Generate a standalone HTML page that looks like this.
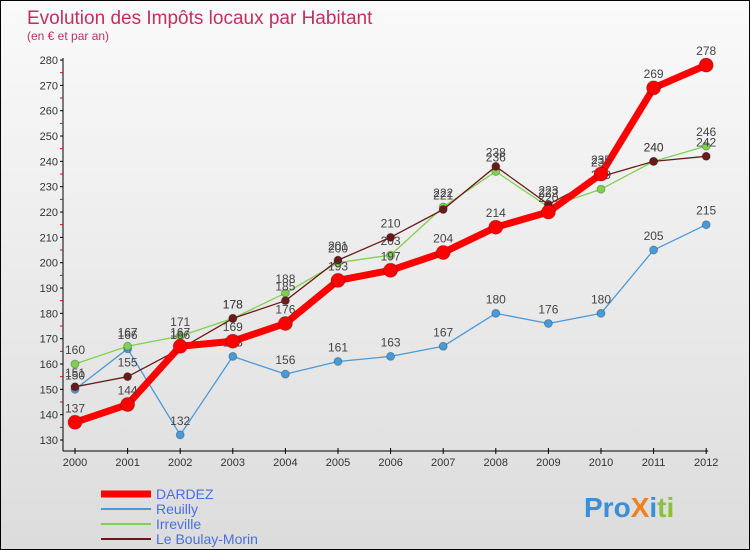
<!DOCTYPE html>
<html><head><meta charset="utf-8"><style>
body{margin:0;width:750px;height:550px;overflow:hidden;font-family:"Liberation Sans",sans-serif}
#wrap{position:absolute;left:0;top:0;width:748px;height:548px;border:1px solid #000;background:linear-gradient(#fafafa,#dcdcdc)}
</style></head><body>
<div id="wrap">
<svg id="chart" width="748" height="548" style="position:absolute;left:0;top:0">
<text x="26" y="23" font-size="19" fill="#c0305f">Evolution des Impôts locaux par Habitant</text>
<text x="26" y="39" font-size="12" fill="#c0305f">(en € et par an)</text>
<g id="axes"></g><g id="series"></g><g id="legend"></g>
<text x="583" y="516" font-size="28" font-weight="bold"><tspan fill="#3a8fd8">Pro</tspan><tspan fill="#f08020">X</tspan><tspan fill="#3a8fd8">i</tspan><tspan fill="#8ac040">ti</tspan></text>
</svg></div>
<script>
const years=[2000,2001,2002,2003,2004,2005,2006,2007,2008,2009,2010,2011,2012];
const yTicks=[130,140,150,160,170,180,190,200,210,220,230,240,250,260,270,280];
const dardez=[137,144,167,169,176,193,197,204,214,220,235,269,278];
const reuilly=[150,166,132,163,156,161,163,167,180,176,180,205,215];
const irreville=[160,167,171,178,188,200,203,222,236,222,229,240,246];
const boulay=[151,155,166,178,185,201,210,221,238,223,234,240,242];
const NS='http://www.w3.org/2000/svg';
const X=i=>74+i*52.6, Y=v=>439-(v-130)*2.533;
function mk(t,a,p){const e=document.createElementNS(NS,t);for(const k in a)e.setAttribute(k,a[k]);p.appendChild(e);return e;}
const ax=document.getElementById('axes');
let l=mk('line',{x1:62,y1:Y(280)-2,x2:62,y2:450,stroke:'#000'},ax);

l=mk('line',{x1:62,y1:450,x2:X(12)+2,y2:450,stroke:'#000'},ax);

yTicks.forEach(v=>{mk('line',{x1:59,y1:Y(v),x2:62,y2:Y(v),stroke:'#000'},ax);
 if(v<280)mk('line',{x1:59,y1:Y(v+5),x2:62,y2:Y(v+5),stroke:'#e00'},ax);
 const t=mk('text',{x:57,y:Y(v)+4,'font-size':11,'text-anchor':'end',fill:'#333'},ax);t.textContent=v;
 });
years.forEach((y,i)=>{mk('line',{x1:X(i),y1:447,x2:X(i),y2:453,stroke:'#000'},ax);
 const t=mk('text',{x:X(i),y:465,'font-size':11,'text-anchor':'middle',fill:'#333'},ax);t.textContent=y;
 });
const sg=document.getElementById('series');
function series(name,data,color,w,r,labelColor){
 const g=mk('g',{},sg);
 mk('polyline',{points:data.map((v,i)=>X(i)+','+Y(v)).join(' '),fill:'none',stroke:color,'stroke-width':w,'stroke-linejoin':'round'},g);
 data.forEach((v,i)=>{const c=mk('circle',{cx:X(i),cy:Y(v),r:r,fill:color,stroke:'rgba(0,0,0,0.25)'},g);
  
  const t=mk('text',{x:X(i),y:Y(v)-10,'font-size':12,'text-anchor':'middle',fill:'#444'},g);t.textContent=v;
  });
}
series('reuilly',reuilly,'#4a9ad8',1.3,4);
series('irreville',irreville,'#80d050',1.3,4);
series('boulay',boulay,'#6a1a1a',1.3,4);
series('dardez',dardez,'#ff0000',7,7);
const lg=document.getElementById('legend');
[['DARDEZ','#ff0000',7],['Reuilly','#4a9ad8',2],['Irreville','#80d050',2],['Le Boulay-Morin','#6a1a1a',2]].forEach((s,i)=>{
 const y=493+i*15;const g=mk('g',{},lg);
 mk('line',{x1:100,y1:y,x2:150,y2:y,stroke:s[1],'stroke-width':s[2]},g);
 const t=mk('text',{x:155,y:y+5,'font-size':14,fill:'#4a6ee0'},g);t.textContent=s[0];});
</script>
</body></html>
